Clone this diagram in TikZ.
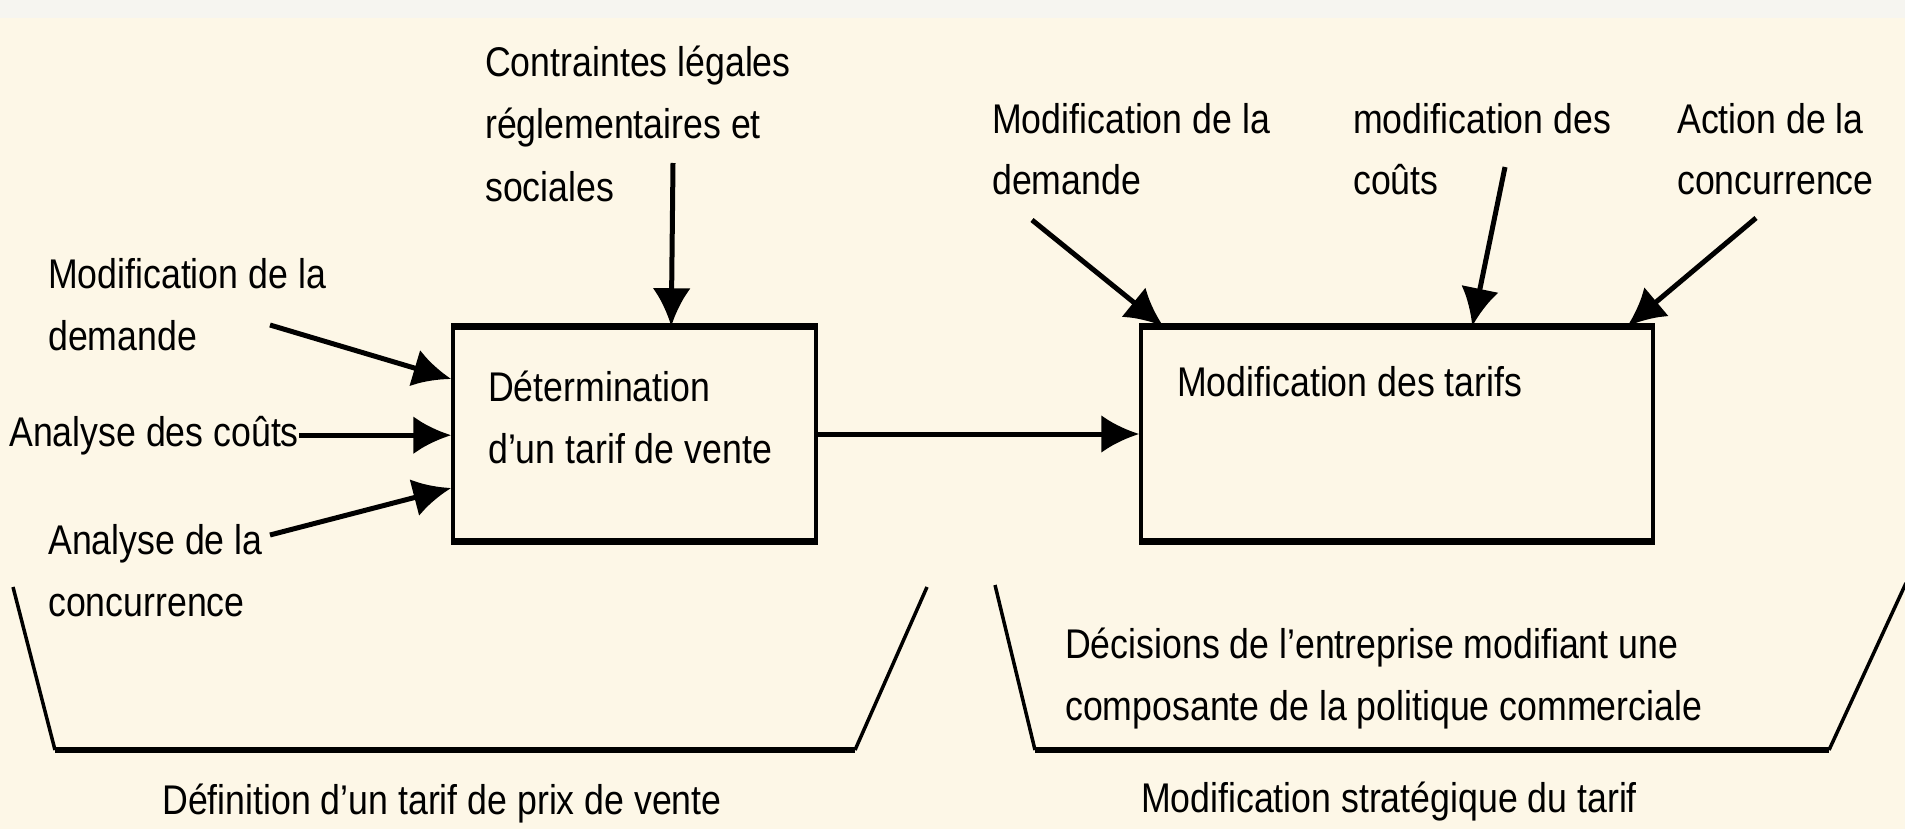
\documentclass[tikz,border=0pt]{standalone}
\usepackage{fontspec}
\setmainfont[FakeStretch=0.86]{Liberation Sans}
\usetikzlibrary{arrows.meta,calc}
\definecolor{bg}{RGB}{253,247,231}
\definecolor{strip}{RGB}{246,245,240}
\begin{document}
\begin{tikzpicture}[x=1pt,y=-1pt,
  lbl/.style={font=\fontsize{41.5}{62}\selectfont, inner sep=0pt, align=left, anchor=base west},
  arr/.style={line width=5pt, -{Latex[length=38pt,width=38pt]}},
  box/.style={draw, line width=3.5pt, inner sep=0pt},
  hedge/.style={line width=6.5pt},
  vedge/.style={line width=3.5pt}]
\useasboundingbox (0,0) rectangle (1905,829);
\fill[bg] (0,0) rectangle (1905,829);
\fill[strip] (0,0) rectangle (1905,18);

% boxes
\node[box, minimum width=363pt, minimum height=212pt] (b1) at (634.5,434) {};
\node[box, minimum width=512pt, minimum height=212pt] (b2) at (1397,434) {};
\draw[hedge] (b1.north west) -- (b1.north east);
\draw[hedge] (b1.south west) -- (b1.south east);
\draw[hedge] (b2.north west) -- (b2.north east);
\draw[hedge] (b2.south west) -- (b2.south east);
\node[lbl] (t1) at (488,463) {Détermination\\d'un tarif de vente};
\node[lbl] (t2) at (1177,396) {Modification des tarifs};

% labels (multi-line nodes placed by the baseline of their last line)
\node[lbl] (c) at (485,201) {Contraintes légales\\réglementaires et\\sociales};
\node[lbl] (md1) at (48,350) {Modification de la\\demande};
\node[lbl] (ac) at (9,446) {Analyse des coûts};
\node[lbl] (al) at (48,616) {Analyse de la\\concurrence};
\node[lbl] (md2) at (992,195) {Modification de la\\demande};
\node[lbl] (mc) at (1353,195) {modification des\\coûts};
\node[lbl] (ad) at (1677,195) {Action de la\\concurrence};
\node[lbl] (dec) at (1065,720) {Décisions de l'entreprise modifiant une\\composante de la politique commerciale};
\node[lbl, anchor=base] (def) at (442,814) {Définition d'un tarif de prix de vente};
\node[lbl, anchor=base] (ms) at (1389,812) {Modification stratégique du tarif};

% arrow start points
\coordinate (cs) at (673,163);
\coordinate (s1) at (270,325);
\coordinate (s3) at (270,535);
\coordinate (s4) at (1032,220);
\coordinate (s5) at (1505,167);
\coordinate (s6) at (1756,218);

\draw[arr] (cs) -- ($(b1.north west)+(220,0)$);
\draw[arr] (s1) -- ($(b1.west)+(0,-55)$);
\draw[arr] (ac.east) -- (ac.east -| b1.west);
\draw[arr] (s3) -- ($(b1.west)+(0,54)$);
\draw[arr] (b1.east) -- (b2.west);
\draw[arr] (s4) -- ($(b2.north west)+(24,0)$);
\draw[arr] (s5) -- ($(b2.north west)+(333,0)$);
\draw[arr] (s6) -- ($(b2.north west)+(488,0)$);

% trapezoids
\coordinate (p1) at (13,587);
\coordinate (p2) at (55,750);
\coordinate (p3) at (855,750);
\coordinate (p4) at (927,587);
\draw[vedge] (p1) -- (p2);
\draw[hedge] (p2) -- (p3);
\draw[vedge] (p3) -- (p4);
\coordinate (q1) at (995,585);
\coordinate (q2) at (1035,750);
\coordinate (q3) at (1829,750);
\coordinate (q4) at (1906,583);
\draw[vedge] (q1) -- (q2);
\draw[hedge] (q2) -- (q3);
\draw[vedge] (q3) -- (q4);
\end{tikzpicture}
\end{document}
